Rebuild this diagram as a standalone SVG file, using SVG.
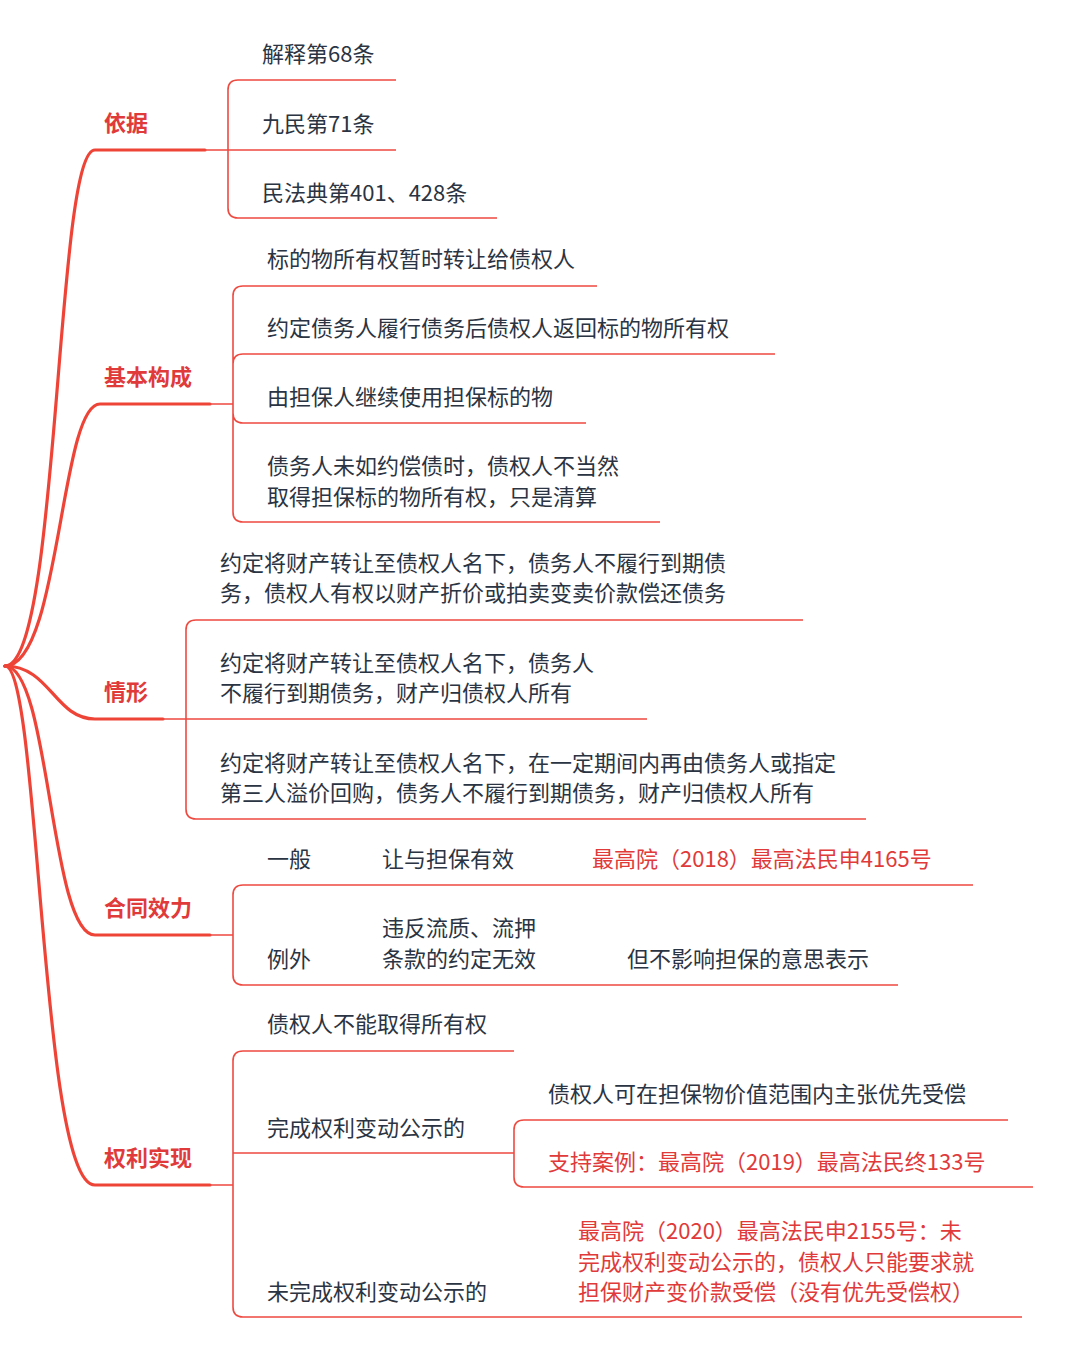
<svg xmlns="http://www.w3.org/2000/svg" width="1080" height="1369" viewBox="0 0 1080 1369">
<style>
.t{font-family:"Noto Sans CJK SC","Noto Sans",sans-serif;font-size:22px;fill:#2b3442}
.r{font-family:"Noto Sans CJK SC","Noto Sans",sans-serif;font-size:22px;fill:#e03a3a}
.h{font-family:"Noto Sans CJK SC","Noto Sans",sans-serif;font-size:22px;font-weight:bold;fill:#e03a3a}
.m{fill:none;stroke:#ee4437;stroke-width:3.2;stroke-linecap:round}
.s{fill:none;stroke:#ee4a40;stroke-width:1.6}
</style>
<rect width="1080" height="1369" fill="#fff"/>
<g id="connectors">
<path class="m" d="M5 666 C60 666 55 150 95 150 H205"/>
<path class="m" d="M5 666 C60 666 60 404 100 404 H210"/>
<path class="m" d="M5 666 C50 666 55 719 95 719 H163"/>
<path class="m" d="M5 666 C50 666 50 935 95 935 H210"/>
<path class="m" d="M5 666 C40 666 40 1185 95 1185 H210"/>
<path class="s" d="M396 80 H238 Q228 80 228 90 V208 Q228 218 238 218 H497 M205 150 H396"/>
<path class="s" d="M597 286 H243 Q233 286 233 296 V512 Q233 522 243 522 H660 M775 354 H243 Q233 354 233 364 M586 423 H243 Q233 423 233 413 M210 404 H233"/>
<path class="s" d="M803 620 H196 Q186 620 186 630 V809 Q186 819 196 819 H866 M163 719 H647"/>
<path class="s" d="M973 885 H243 Q233 885 233 895 V975 Q233 985 243 985 H898 M210 935 H233"/>
<path class="s" d="M514 1051 H243 Q233 1051 233 1061 V1307 Q233 1317 243 1317 H1022 M210 1185 H233 M233 1153 H514"/>
<path class="s" d="M1008 1120 H524 Q514 1120 514 1130 V1177 Q514 1187 524 1187 H1033"/>
</g>
<g id="n1"><text class="h" x="104" y="131">依据</text>
<text class="t" x="262" y="62">解释第68条</text><text class="t" x="262" y="132">九民第71条</text><text class="t" x="262" y="201">民法典第401、428条</text></g>
<g id="n2"><text class="h" x="104" y="385">基本构成</text>
<text class="t" x="267" y="267">标的物所有权暂时转让给债权人</text>
<text class="t" x="267" y="336">约定债务人履行债务后债权人返回标的物所有权</text>
<text class="t" x="267" y="405">由担保人继续使用担保标的物</text>
<text class="t" x="267" y="474">债务人未如约偿债时，债权人不当然</text>
<text class="t" x="267" y="505">取得担保标的物所有权，只是清算</text></g>
<g id="n3"><text class="h" x="104" y="700">情形</text>
<text class="t" x="220" y="571">约定将财产转让至债权人名下，债务人不履行到期债</text>
<text class="t" x="220" y="601">务，债权人有权以财产折价或拍卖变卖价款偿还债务</text>
<text class="t" x="220" y="671">约定将财产转让至债权人名下，债务人</text>
<text class="t" x="220" y="701">不履行到期债务，财产归债权人所有</text>
<text class="t" x="220" y="771">约定将财产转让至债权人名下，在一定期间内再由债务人或指定</text>
<text class="t" x="220" y="801">第三人溢价回购，债务人不履行到期债务，财产归债权人所有</text></g>
<g id="n4"><text class="h" x="104" y="916">合同效力</text>
<text class="t" x="267" y="867">一般</text><text class="t" x="382" y="867">让与担保有效</text>
<text class="r" x="592" y="867">最高院（2018）最高法民申4165号</text>
<text class="t" x="267" y="967">例外</text><text class="t" x="382" y="936">违反流质、流押</text>
<text class="t" x="382" y="967">条款的约定无效</text><text class="t" x="627" y="967">但不影响担保的意思表示</text></g>
<g id="n5"><text class="h" x="104" y="1166">权利实现</text>
<text class="t" x="267" y="1032">债权人不能取得所有权</text>
<text class="t" x="267" y="1136">完成权利变动公示的</text>
<text class="t" x="548" y="1102">债权人可在担保物价值范围内主张优先受偿</text>
<text class="r" x="548" y="1170">支持案例：最高院（2019）最高法民终133号</text>
<text class="t" x="267" y="1300">未完成权利变动公示的</text>
<text class="r" x="578" y="1239">最高院（2020）最高法民申2155号：未</text>
<text class="r" x="578" y="1270">完成权利变动公示的，债权人只能要求就</text>
<text class="r" x="578" y="1300">担保财产变价款受偿（没有优先受偿权）</text></g>
</svg>
